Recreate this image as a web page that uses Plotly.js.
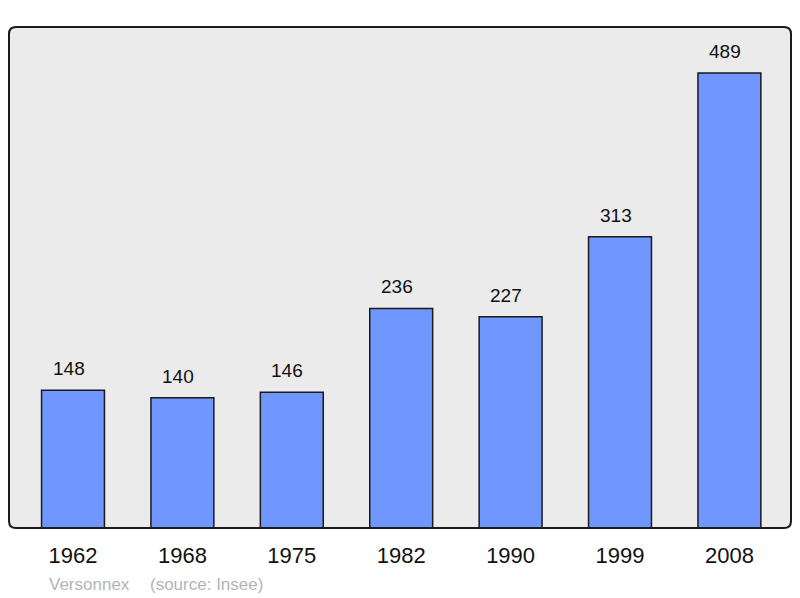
<!DOCTYPE html>
<html>
<head>
<meta charset="utf-8">
<script src="https://cdn.plot.ly/plotly-3.0.1.min.js"></script>
<style>html,body{margin:0;padding:0;background:#fff;}#chart{width:800px;height:598px;}</style>
</head>
<body>
<div id="chart"></div>
<script>
const years = ["1962","1968","1975","1982","1990","1999","2008"];
const population = [148,140,146,236,227,313,489];
const commune = "Versonnex";
const source = "(source: Insee)";

const xIdx = years.map((_, i) => i);
const FONT = "Liberation Sans, Arial, sans-serif";

const trace = {
  type: "bar",
  x: xIdx,
  y: population,
  width: 0.575,
  marker: {color: "#7096ff", line: {color: "#1a1a1a", width: 1.5}},
  hoverinfo: "none"
};

const rx = 7/782, ry = 7/501;
const framePath = `M ${rx} 0 L ${1-rx} 0 Q 1 0 1 ${ry} L 1 ${1-ry} Q 1 1 ${1-rx} 1 L ${rx} 1 Q 0 1 0 ${1-ry} L 0 ${ry} Q 0 0 ${rx} 0 Z`;

const annotations = population.map((v, i) => ({
  x: i, y: v, xref: "x", yref: "y", text: String(v), showarrow: false,
  yanchor: "bottom", yshift: 9, xshift: -4.5, font: {family: FONT, size: 19, color: "#111"}
}));
annotations.push({
  xref: "paper", yref: "paper", x: 38/782, y: -56/501, xanchor: "left", yanchor: "middle",
  text: commune, showarrow: false,
  font: {family: FONT, size: 17, color: "#b4b4b4"}
});
annotations.push({
  xref: "paper", yref: "paper", x: 139/782, y: -56/501, xanchor: "left", yanchor: "middle",
  text: source, showarrow: false,
  font: {family: FONT, size: 17, color: "#b4b4b4"}
});

const layout = {
  width: 800, height: 598,
  margin: {l: 9, r: 9, t: 27, b: 70},
  paper_bgcolor: "#ffffff",
  plot_bgcolor: "#ebebeb",
  showlegend: false,
  xaxis: {
    range: [-0.585, 6.563], tickmode: "array", tickvals: xIdx, ticktext: years,
    showgrid: false, zeroline: false, showline: false, ticks: "", ticklen: 0,
    ticklabelstandoff: 12,
    tickfont: {family: FONT, size: 22, color: "#111"},
    fixedrange: true
  },
  yaxis: {
    range: [0, 538.4], showgrid: false, zeroline: false, showline: false,
    showticklabels: false, ticks: "", fixedrange: true
  },
  shapes: [{
    type: "path", xref: "paper", yref: "paper", path: framePath,
    line: {color: "#1a1a1a", width: 2}, fillcolor: "rgba(0,0,0,0)", layer: "above"
  }],
  annotations: annotations
};

Plotly.newPlot("chart", [trace], layout, {displayModeBar: false, staticPlot: true});
</script>
</body>
</html>
